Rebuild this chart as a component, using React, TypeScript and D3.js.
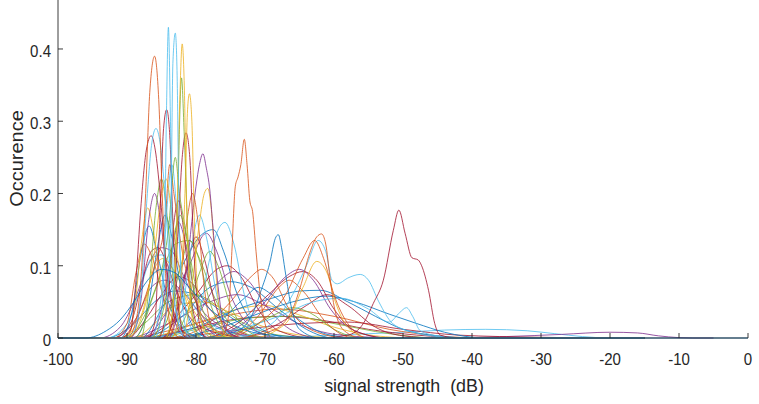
import React from "react";
import * as d3 from "d3";

type Pt = [number, number];

// MATLAB default colour order
const palette = ["#0072BD", "#D95319", "#EDB120", "#7E2F8E", "#77AC30", "#4DBEEE", "#A2142F"];

const xTicks = [-100, -90, -80, -70, -60, -50, -40, -30, -20, -10, 0];
const yTicks = [0, 0.1, 0.2, 0.3, 0.4];
const xLabel = "signal strength  (dB)";
const yLabel = "Occurence";

// ---- broad / low curves ----
const blueLong: Pt[] = [[-100,0],[-96,0],[-93,0.01],[-91,0.025],[-89,0.05],[-87,0.08],[-85,0.095],[-83,0.09],[-81,0.07],[-78,0.04],[-75,0.02],[-70,0.005],[-60,0],[0,0]];
const purpleWide85: Pt[] = [[-100,0],[-94,0],[-91,0.015],[-89,0.05],[-87,0.1],[-85,0.125],[-83.5,0.12],[-82,0.09],[-80,0.05],[-77,0.02],[-72,0.003],[-65,0],[-15,0]];
const lblueWide86: Pt[] = [[-100,0],[-93,0],[-90,0.02],[-88,0.07],[-86.5,0.11],[-85,0.115],[-83,0.09],[-80,0.04],[-76,0.01],[-70,0],[-15,0]];
const redWide85: Pt[] = [[-100,0],[-92,0],[-89.5,0.02],[-88,0.07],[-86.5,0.12],[-85.5,0.125],[-84.5,0.11],[-83,0.07],[-81,0.03],[-78,0.01],[-72,0],[-15,0]];
const greenWide81: Pt[] = [[-100,0],[-90,0],[-87.5,0.03],[-85,0.09],[-83,0.13],[-81,0.135],[-79.5,0.11],[-77.5,0.06],[-75,0.02],[-70,0],[-15,0]];
const low1: Pt[] = [[-100,0],[-88,0],[-82,0.01],[-75,0.025],[-68,0.03],[-62,0.025],[-55,0.012],[-48,0.004],[-40,0],[-15,0]];
const low2: Pt[] = [[-100,0],[-86,0],[-80,0.012],[-72,0.028],[-66,0.03],[-60,0.02],[-52,0.006],[-45,0],[-15,0]];
const low3: Pt[] = [[-100,0],[-88,0],[-80,0.02],[-74,0.04],[-70,0.045],[-66,0.035],[-60,0.015],[-54,0.003],[-48,0],[-15,0]];
const low4: Pt[] = [[-100,0],[-90,0],[-84,0.02],[-78,0.05],[-74,0.06],[-70,0.045],[-64,0.015],[-58,0.003],[-50,0],[-15,0]];
const low5: Pt[] = [[-100,0],[-90,0],[-84,0.01],[-76,0.03],[-68,0.04],[-60,0.03],[-52,0.012],[-45,0.003],[-38,0],[-15,0]];
const low6: Pt[] = [[-100,0],[-85,0],[-75,0.01],[-65,0.02],[-58,0.022],[-50,0.012],[-42,0.004],[-30,0.001],[-20,0],[-15,0]];
const low7: Pt[] = [[-100,0],[-93,0],[-89,0.02],[-86,0.05],[-83,0.065],[-80,0.06],[-76,0.035],[-72,0.012],[-67,0],[-15,0]];
const low8: Pt[] = [[-100,0],[-92,0],[-88.5,0.03],[-86.5,0.07],[-84.5,0.08],[-82,0.065],[-79,0.03],[-75,0.008],[-70,0],[-15,0]];
const low9: Pt[] = [[-100,0],[-91,0],[-87.5,0.02],[-84,0.05],[-80,0.06],[-77,0.045],[-73,0.02],[-68,0.004],[-62,0],[-15,0]];
const low10: Pt[] = [[-100,0],[-90,0],[-87,0.03],[-85,0.06],[-82.5,0.085],[-80.5,0.075],[-78,0.04],[-74,0.01],[-70,0],[-15,0]];
const low11: Pt[] = [[-100,0],[-89,0],[-86,0.02],[-83,0.045],[-79,0.05],[-75,0.035],[-70,0.015],[-64,0.003],[-58,0],[-15,0]];
const hump71: Pt[] = [[-100,0],[-82,0],[-77,0.02],[-73,0.055],[-71,0.07],[-69,0.06],[-65,0.025],[-61,0.005],[-57,0],[-15,0]];
const hump61: Pt[] = [[-100,0],[-74,0],[-68,0.02],[-64,0.045],[-61,0.06],[-58,0.045],[-54,0.015],[-50,0.003],[-45,0],[-15,0]];
const hump66: Pt[] = [[-100,0],[-78,0],[-72,0.015],[-68,0.035],[-66,0.042],[-63.5,0.035],[-60,0.012],[-56,0],[-15,0]];
const purple74: Pt[] = [[-100,0],[-86,0],[-80,0.03],[-76.5,0.08],[-74.5,0.092],[-72.5,0.08],[-69.5,0.04],[-66,0.01],[-62,0],[-15,0]];
const blue75: Pt[] = [[-100,0],[-88,0],[-82,0.03],[-78,0.07],[-75,0.078],[-72,0.07],[-68,0.04],[-64,0.012],[-60,0],[-15,0]];
const blueBroad63: Pt[] = [[-100,0],[-88,0],[-80,0.015],[-74,0.04],[-69,0.055],[-65,0.065],[-62,0.066],[-58,0.05],[-54,0.03],[-50,0.012],[-45,0.003],[-40,0],[-15,0]];
const blueBroad61: Pt[] = [[-100,0],[-85,0],[-78,0.01],[-72,0.03],[-66,0.05],[-61,0.058],[-57,0.05],[-52,0.033],[-48,0.02],[-44,0.008],[-38,0],[-15,0]];
const tealFlat40: Pt[] = [[-100,0],[-70,0],[-60,0.004],[-50,0.008],[-44,0.011],[-38,0.012],[-32,0.01],[-28,0.006],[-24,0.002],[-20,0],[-15,0]];
const purpleFlat20: Pt[] = [[-100,0],[-45,0],[-35,0.002],[-27,0.005],[-20,0.008],[-16,0.007],[-13,0.003],[-10,0.0005],[-8,0],[-5,0]];

// ---- medium peaks ----
const orange70: Pt[] = [[-100,0],[-84,0],[-79,0.015],[-75,0.05],[-72,0.085],[-70.5,0.095],[-69,0.085],[-66.5,0.04],[-63,0.01],[-58,0],[-15,0]];
const purple65: Pt[] = [[-100,0],[-80,0],[-74,0.015],[-70,0.05],[-67,0.085],[-65,0.095],[-63,0.08],[-60.5,0.04],[-57,0.01],[-52,0],[-15,0]];
const red64: Pt[] = [[-100,0],[-79,0],[-74,0.02],[-69.5,0.06],[-66.5,0.085],[-64.5,0.092],[-62.5,0.08],[-60,0.04],[-57,0.01],[-52,0],[-15,0]];
const orange66: Pt[] = [[-100,0],[-76,0],[-71,0.03],[-68,0.07],[-66.5,0.08],[-64.5,0.065],[-61,0.02],[-57,0],[-15,0]];
const redHump75: Pt[] = [[-100,0],[-88,0],[-84,0.02],[-80,0.06],[-77,0.095],[-75.5,0.1],[-73.5,0.085],[-71,0.04],[-68,0.01],[-63,0],[-15,0]];
const blue77: Pt[] = [[-100,0],[-88,0],[-85,0.04],[-82,0.1],[-79.5,0.14],[-77.5,0.15],[-76,0.12],[-74,0.06],[-71,0.015],[-66,0],[-15,0]];
const purple78: Pt[] = [[-100,0],[-88,0],[-84,0.04],[-81,0.1],[-78.5,0.145],[-77,0.12],[-75,0.06],[-72,0.015],[-68,0],[-15,0]];
const lblue76: Pt[] = [[-100,0],[-84,0],[-80,0.02],[-78,0.11],[-77,0.145],[-75.8,0.16],[-74.5,0.13],[-73,0.06],[-71,0.01],[-68,0],[-15,0]];
const lblueSmall49: Pt[] = [[-100,0],[-85,0],[-75,0.01],[-68,0.03],[-63,0.05],[-59,0.055],[-55,0.04],[-52,0.022],[-50.5,0.035],[-49.5,0.042],[-48.6,0.03],[-47.5,0.01],[-45,0.003],[-40,0],[-15,0]];
const lblueDouble: Pt[] = [[-100,0],[-75,0],[-69,0.02],[-66,0.06],[-64,0.1],[-62.3,0.135],[-61.2,0.12],[-60.3,0.08],[-59.5,0.075],[-58,0.083],[-56.2,0.088],[-55,0.08],[-53.5,0.05],[-51.5,0.02],[-48.5,0.008],[-45,0.002],[-40,0],[-15,0]];
const yellow62: Pt[] = [[-100,0],[-72,0],[-67,0.02],[-64.5,0.07],[-62.5,0.106],[-61,0.09],[-59.8,0.05],[-58,0.015],[-55,0],[-15,0]];
const red62: Pt[] = [[-100,0],[-76,0],[-71,0.02],[-67,0.06],[-64.5,0.11],[-62.8,0.135],[-61.5,0.11],[-60,0.06],[-58,0.02],[-55,0],[-15,0]];
const orange62: Pt[] = [[-100,0],[-75,0],[-69,0.01],[-66,0.04],[-64.9,0.07],[-63.5,0.118],[-62.5,0.14],[-61.8,0.144],[-61.2,0.13],[-60.6,0.085],[-59.9,0.04],[-58.5,0.01],[-56,0],[-15,0]];
const blue68: Pt[] = [[-100,0],[-80,0],[-74,0.01],[-71.5,0.04],[-70.7,0.062],[-69.3,0.104],[-68.5,0.138],[-68.07,0.143],[-67.6,0.125],[-67.1,0.094],[-66.1,0.039],[-65,0.012],[-62,0],[-15,0]];
const magenta51: Pt[] = [[-100,0],[-62,0],[-58,0.004],[-55.75,0.02],[-54.3,0.048],[-52.85,0.08],[-51.4,0.149],[-50.6,0.177],[-49.7,0.145],[-48.7,0.111],[-47.8,0.108],[-47.3,0.1],[-46.3,0.066],[-45.4,0.02],[-44.6,0.004],[-42,0],[-15,0]];

// ---- dense cluster -90 .. -78 ----
const n1: Pt[] = [[-100,0],[-86.5,0],[-85,0.06],[-84.2,0.18],[-83.5,0.24],[-82.8,0.18],[-82,0.08],[-80.5,0.01],[-79,0],[-15,0]];
const n2: Pt[] = [[-100,0],[-88,0],[-86.8,0.07],[-85.8,0.18],[-85,0.22],[-84.2,0.17],[-83.3,0.08],[-82,0.02],[-80,0],[-15,0]];
const n3: Pt[] = [[-100,0],[-84,0],[-82.5,0.06],[-81.2,0.17],[-80.5,0.2],[-79.7,0.16],[-78.8,0.07],[-77.5,0.01],[-76,0],[-15,0]];
const n4: Pt[] = [[-100,0],[-89,0],[-87,0.04],[-85.5,0.13],[-84.5,0.17],[-83.5,0.14],[-82,0.06],[-80,0.01],[-78,0],[-15,0]];
const n5: Pt[] = [[-100,0],[-90,0],[-88.8,0.05],[-87.8,0.14],[-87,0.18],[-86.2,0.15],[-85,0.07],[-83.5,0.01],[-82,0],[-15,0]];
const n6: Pt[] = [[-100,0],[-87,0],[-85,0.04],[-83.5,0.12],[-82.5,0.16],[-81.5,0.13],[-80,0.05],[-78,0.01],[-76,0],[-15,0]];
const n7: Pt[] = [[-100,0],[-85,0],[-83,0.03],[-81.3,0.1],[-80,0.14],[-78.8,0.11],[-77.3,0.05],[-75.5,0.01],[-73,0],[-15,0]];
const n8: Pt[] = [[-100,0],[-84,0],[-81.5,0.03],[-79.5,0.09],[-78,0.12],[-76.8,0.1],[-75,0.045],[-72.5,0.01],[-70,0],[-15,0]];
const n9: Pt[] = [[-100,0],[-84,0],[-82,0.04],[-80.6,0.13],[-79.5,0.17],[-78.5,0.14],[-77,0.06],[-75.5,0.01],[-74,0],[-15,0]];
const n10: Pt[] = [[-100,0],[-92,0],[-90,0.02],[-88.7,0.09],[-87.5,0.13],[-86.3,0.11],[-84.5,0.05],[-82,0.01],[-79,0],[-15,0]];
const n11: Pt[] = [[-100,0],[-91,0],[-89.2,0.04],[-87.9,0.12],[-86.8,0.155],[-85.7,0.12],[-84,0.05],[-81.5,0.01],[-79,0],[-15,0]];
const n12: Pt[] = [[-100,0],[-91,0],[-88,0.03],[-86.3,0.09],[-84.8,0.11],[-83,0.09],[-80.5,0.04],[-77,0.008],[-74,0],[-15,0]];
const n13: Pt[] = [[-100,0],[-85.5,0],[-84,0.06],[-83.2,0.16],[-82.5,0.19],[-81.8,0.15],[-80.8,0.06],[-79.5,0.01],[-78,0],[-15,0]];
const n14: Pt[] = [[-100,0],[-86,0],[-84,0.03],[-82.2,0.1],[-80.9,0.135],[-79.6,0.11],[-78,0.05],[-76,0.01],[-74,0],[-15,0]];
const n15: Pt[] = [[-100,0],[-89.5,0],[-88,0.05],[-86.9,0.16],[-86,0.2],[-85.1,0.16],[-84,0.07],[-82.5,0.01],[-81,0],[-15,0]];
const green82: Pt[] = [[-100,0],[-86.5,0],[-84.5,0.05],[-83.2,0.14],[-82.3,0.17],[-81.4,0.14],[-80.2,0.06],[-78.5,0.01],[-77,0],[-15,0]];
const orange84: Pt[] = [[-100,0],[-91,0],[-88.5,0.03],[-86,0.1],[-84.5,0.16],[-83.8,0.24],[-83.2,0.2],[-82,0.12],[-80,0.05],[-77,0.01],[-72,0],[-15,0]];
const yellow84: Pt[] = [[-100,0],[-90,0],[-87.5,0.04],[-86,0.12],[-85,0.2],[-84.3,0.22],[-83.5,0.17],[-82.5,0.1],[-81,0.04],[-78,0.005],[-75,0],[-15,0]];
const green83: Pt[] = [[-100,0],[-89,0],[-86.5,0.05],[-84,0.15],[-83,0.25],[-82.4,0.2],[-81.5,0.15],[-80,0.07],[-78,0.02],[-75,0],[-15,0]];

// ---- tall peaks ----
const yellow78: Pt[] = [[-100,0],[-82,0],[-80.5,0.08],[-79.5,0.16],[-78.8,0.2],[-78.3,0.207],[-77.8,0.18],[-77.2,0.1],[-76.5,0.03],[-75.5,0],[-15,0]];
const purple79: Pt[] = [[-100,0],[-84,0],[-82.5,0.04],[-81.3,0.1],[-80.5,0.17],[-80,0.21],[-79.5,0.24],[-79,0.255],[-78.5,0.235],[-78,0.205],[-77.6,0.16],[-77,0.09],[-76.2,0.03],[-75,0.005],[-73,0],[-15,0]];
const red86: Pt[] = [[-100,0],[-91,0],[-89.5,0.01],[-88.7,0.08],[-88,0.18],[-87.2,0.26],[-86.5,0.28],[-85.9,0.26],[-85.2,0.2],[-84.5,0.12],[-83.5,0.05],[-82,0.01],[-80,0],[-15,0]];
const lblue86: Pt[] = [[-100,0],[-90.5,0],[-89,0.01],[-88,0.06],[-87.2,0.18],[-86.4,0.27],[-85.8,0.29],[-85.2,0.27],[-84.5,0.2],[-83.8,0.1],[-83,0.04],[-81.5,0.01],[-80,0],[-15,0]];
const red81: Pt[] = [[-100,0],[-84.5,0],[-83.5,0.02],[-82.6,0.15],[-82,0.25],[-81.45,0.284],[-80.9,0.25],[-80.3,0.12],[-79.5,0.02],[-78.5,0],[-15,0]];
const red84: Pt[] = [[-100,0],[-87,0],[-86,0.02],[-85.3,0.15],[-84.7,0.29],[-84.25,0.316],[-83.8,0.28],[-83.3,0.15],[-82.5,0.04],[-81.5,0],[-15,0]];
const yellow81: Pt[] = [[-100,0],[-83.5,0],[-82.5,0.03],[-81.6,0.2],[-81.2,0.32],[-80.95,0.338],[-80.6,0.3],[-80.2,0.15],[-79.5,0.04],[-78.5,0.005],[-77.5,0],[-15,0]];
const green82tall: Pt[] = [[-100,0],[-84.5,0],[-83.5,0.03],[-82.7,0.18],[-82.1,0.36],[-81.7,0.28],[-81,0.1],[-80,0.01],[-79,0],[-15,0]];
const yellow82: Pt[] = [[-100,0],[-84.5,0],[-83.5,0.03],[-82.8,0.15],[-82.35,0.33],[-82,0.407],[-81.7,0.35],[-81.4,0.2],[-80.8,0.05],[-80,0.005],[-79,0],[-15,0]];
const orange73: Pt[] = [[-100,0],[-77,0],[-76,0.005],[-75.3,0.03],[-74.8,0.12],[-74.3,0.21],[-73.9,0.223],[-73.5,0.24],[-73,0.275],[-72.6,0.24],[-72.2,0.19],[-71.8,0.175],[-71.3,0.12],[-70.7,0.06],[-70,0.02],[-69,0],[-15,0]];
const orange86: Pt[] = [[-100,0],[-90,0],[-88.8,0.02],[-88,0.08],[-87.3,0.2],[-86.7,0.34],[-86,0.39],[-85.4,0.33],[-84.9,0.2],[-84.3,0.07],[-83.5,0.01],[-82,0],[-15,0]];
const lblue84: Pt[] = [[-100,0],[-86,0],[-85.2,0.02],[-84.6,0.1],[-84.3,0.3],[-84,0.43],[-83.7,0.3],[-83.4,0.12],[-82.8,0.03],[-81.5,0],[-15,0]];
const lblue83: Pt[] = [[-100,0],[-85,0],[-84.2,0.05],[-83.6,0.2],[-83.35,0.38],[-83,0.422],[-82.75,0.37],[-82.5,0.2],[-82,0.05],[-81,0],[-15,0]];

const series: [Pt[], number][] = [
  [tealFlat40, 5], [purpleFlat20, 3], [low1, 6], [low2, 4], [low3, 2], [low4, 3], [low5, 1], [low6, 6],
  [low7, 0], [low8, 3], [low9, 4], [low10, 6], [low11, 2],
  [hump71, 0], [hump61, 6], [hump66, 4], [purple74, 3], [blue75, 0], [blueBroad63, 0], [blueBroad61, 0],
  [purpleWide85, 3], [lblueWide86, 5], [redWide85, 6], [greenWide81, 4],
  [orange70, 1], [purple65, 3], [red64, 6], [orange66, 1], [redHump75, 6], [blue77, 0], [purple78, 3],
  [lblue76, 5], [lblueSmall49, 5], [lblueDouble, 5], [yellow62, 2], [red62, 1], [orange62, 1], [blue68, 0],
  [n10, 1], [n11, 0], [n12, 2], [n4, 0], [n5, 2], [n15, 3], [n2, 4], [n6, 3], [n7, 6], [n8, 4], [n9, 5],
  [n14, 4], [n13, 6], [n3, 1], [n1, 5], [green82, 4], [orange84, 1], [yellow84, 2], [green83, 4],
  [yellow78, 2], [purple79, 3], [red86, 6], [lblue86, 5], [red81, 6], [red84, 6], [yellow81, 2],
  [green82tall, 4], [yellow82, 2], [orange73, 1], [magenta51, 6], [orange86, 1], [lblue84, 5], [lblue83, 5],
  [blueLong, 0],
];

const W = 759;
const H = 404;
const axisColor = "#262626";
const font = "'Liberation Sans', Arial, Helvetica, sans-serif";

export default function App() {
  const x = d3.scaleLinear().domain([-100, 0]).range([58, 748]);
  const y = d3.scaleLinear().domain([0, 0.47]).range([338, -1.6]);
  const line = d3
    .line<Pt>()
    .x((d) => x(d[0]))
    .y((d) => y(d[1]))
    .curve(d3.curveMonotoneX);
  const x0 = x(-100);
  const y0 = y(0);
  return (
    <svg
      width={W}
      height={H}
      style={{ position: "absolute", left: 0, top: 0, display: "block", background: "#fff" }}
      fontFamily={font}
    >
      <rect x={0} y={0} width={W} height={H} fill="#fff" />
      <g fill="none" strokeWidth={0.9} strokeLinejoin="round" strokeOpacity={0.9}>
        {series.map(([pts, c], i) => (
          <path key={i} d={line(pts) || ""} stroke={palette[c]} />
        ))}
      </g>
      {/* axes */}
      <g stroke={axisColor} strokeWidth={0.9} fill="none">
        <line x1={x0} y1={y0} x2={x(0)} y2={y0} />
        <line x1={x0} y1={y0} x2={x0} y2={0} />
        {xTicks.map((t) => (
          <line key={"xt" + t} x1={x(t)} x2={x(t)} y1={y0} y2={y0 - 5} />
        ))}
        {yTicks.map((t) => (
          <line key={"yt" + t} x1={x0} x2={x0 + 5} y1={y(t)} y2={y(t)} />
        ))}
      </g>
      <g fill={axisColor} fontSize={16}>
        {xTicks.map((t) => (
          <text
            key={"xl" + t}
            transform={`translate(${x(t)},365) scale(0.94,1)`}
            textAnchor="middle"
          >
            {String(t)}
          </text>
        ))}
        {yTicks.map((t) => (
          <text
            key={"yl" + t}
            transform={`translate(51,${y(t) + 8}) scale(0.94,1)`}
            textAnchor="end"
          >
            {String(t)}
          </text>
        ))}
      </g>
      <text
        transform={`translate(404,392) scale(0.94,1)`}
        textAnchor="middle"
        fontSize={19}
        fill={axisColor}
        style={{ whiteSpace: "pre" }}
      >
        {xLabel}
      </text>
      <text
        transform={`translate(23,158.5) rotate(-90) scale(1,0.94)`}
        textAnchor="middle"
        fontSize={20}
        fill={axisColor}
      >
        {yLabel}
      </text>
    </svg>
  );
}
